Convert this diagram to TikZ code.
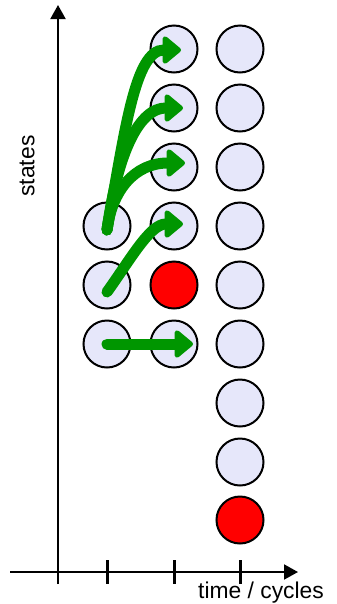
\documentclass[tikz,border=0pt]{standalone}
\usepackage{fontspec}
\setmainfont{Liberation Sans}
\usepackage{tikz}
\usetikzlibrary{arrows.meta, calc}

\definecolor{statefill}{RGB}{230,231,250}
\definecolor{failfill}{RGB}{255,0,0}
\definecolor{flowgreen}{RGB}{0,150,0}

\tikzset{
  state/.style={circle, draw=black, line width=0.06cm, fill=statefill,
                minimum size=1.41cm, inner sep=0pt},
  fail/.style={state, fill=failfill},
  flow/.style={draw=flowgreen, line width=0.33cm, line cap=round,
               -{Triangle[length=0.6cm, width=0.95cm, round]}},
  axis/.style={line width=0.06cm, -{Triangle[length=0.42cm, width=0.45cm]}},
  tick/.style={line width=0.09cm}
}

\begin{document}
\begin{tikzpicture}[x=0.03cm, y=-0.03cm]
        \useasboundingbox (0,0) rectangle (337,604);

        % Draw the axes
        \coordinate (ybot) at (58,584);
        \coordinate (ytop) at (58,5);
        \coordinate (xleft) at (10,572);
        \coordinate (xright) at (298,572);
        \draw[axis] (ybot) -- (ytop);
        \draw[axis] (xleft) -- (xright);

        % Mark the cycles
        \foreach \x in {107, 174, 240}
            \draw[tick] (\x,560) -- (\x,584);

        % Label the axes
        \node[anchor=base, font=\fontsize{19.5}{22}\selectfont] (tlabel) at (261,598) {time / cycles};
        \node[rotate=90, font=\fontsize{19.5}{22}\selectfont] (slabel) at (27,166) {states};

        % States in the first cycle
        \foreach \r/\y in {4/226, 5/285, 6/344}
            \node[state] (a\r) at (107,\y) {};

        % States in the second cycle
        \foreach \r/\y in {1/49, 2/108, 3/167, 4/226, 6/344}
            \node[state] (b\r) at (174,\y) {};
        \node[fail] (b5) at (174,285) {};

        % States in the third cycle
        \foreach \r/\y in {1/49, 2/108, 3/167, 4/226, 5/285, 6/344, 7/403, 8/462}
            \node[state] (c\r) at (240,\y) {};
        \node[fail] (c9) at (240,520) {};

        % Transitions
        \draw[flow] ($(a4.center)+(0,4)$) .. controls (125,130) and (135,50) .. ($(b1.center)+(7,1)$);
        \draw[flow] ($(a4.center)+(0,4)$) .. controls (118,150) and (140,108) .. ($(b2.center)+(9,0)$);
        \draw[flow] ($(a4.center)+(0,4)$) .. controls (112,190) and (135,163) .. ($(b3.center)+(11,-4)$);
        \draw[flow] ($(a5.center)+(0,7)$) .. controls (130,260) and (150,224) .. ($(b4.center)+(9,-2)$);
        \draw[flow] (a6.center) -- ($(b6.center)+(19,0)$);
    \end{tikzpicture}
\end{document}
